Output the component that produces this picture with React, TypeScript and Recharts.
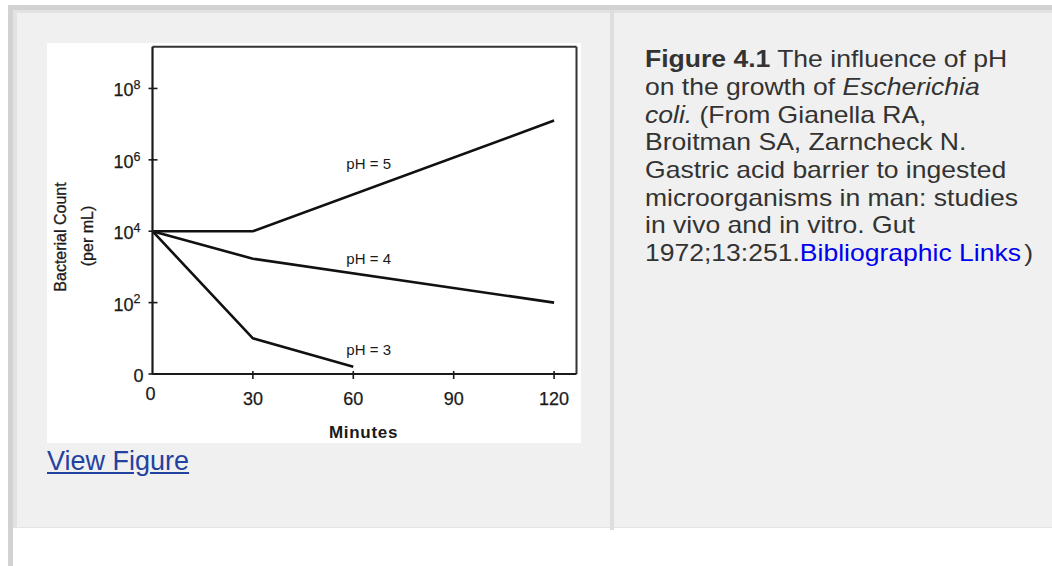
import React from "react";
import {
  LineChart,
  Line,
  XAxis,
  YAxis,
  ReferenceLine,
  ReferenceDot,
  Label,
} from "recharts";

// minutes after inoculation, log10 of bacterial count (0 => 10^0)
const minutesPh5 = [0, 30, 120];
const logCountPh5 = [4, 4, 7.1];
const minutesPh4 = [0, 30, 120];
const logCountPh4 = [4, 3.23, 2];
const minutesPh3 = [0, 30, 60];
const logCountPh3 = [4, 1, 0.2];

const seriesNames = ["pH = 5", "pH = 4", "pH = 3"];
const xTicks = [0, 30, 60, 90, 120];
const yTicks = [0, 2, 4, 6, 8]; // exponent of ten

const X_MAX = 126.7;
const Y_MAX = 9.17;
const FONT = '"Liberation Sans", Arial, Helvetica, sans-serif';
const INK = "#1a1a1a";

// where the pH labels sit, in data units
const labelSpots = [
  { t: 64.6, v: 5.88 },
  { t: 64.6, v: 3.22 },
  { t: 64.6, v: 0.67 },
];

const toRows = (xs: number[], ys: number[]) => xs.map((t, i) => ({ t, v: ys[i] }));

const ph5 = toRows(minutesPh5, logCountPh5);
const ph4 = toRows(minutesPh4, logCountPh4);
const ph3 = toRows(minutesPh3, logCountPh3);

const ExpTick = (props: any) => {
  const { x, y, payload } = props;
  const e = payload.value;
  return (
    <g>
      <line x1={x - 4} x2={x + 5} y1={y} y2={y} stroke={INK} strokeWidth={1.6} />
      {e === 0 ? (
        <text x={x - 9} y={y + 8} textAnchor="end" fontSize={18} fill={INK} stroke={INK} strokeWidth={0.25} fontFamily={FONT}>
          0
        </text>
      ) : (
        <text x={x - 12} y={y + 8} textAnchor="end" fontSize={18} fill={INK} stroke={INK} strokeWidth={0.25} fontFamily={FONT}>
          10
          <tspan fontSize={12.5} dy={-7.3}>
            {e}
          </tspan>
        </text>
      )}
    </g>
  );
};

const MinuteTick = (props: any) => {
  const { x, y, payload } = props;
  const zero = payload.value === 0;
  return (
    <g>
      {!zero && <line x1={x} x2={x} y1={y - 3} y2={y + 5} stroke={INK} strokeWidth={1.6} />}
      <text
        x={zero ? x - 2 : x}
        y={y + (zero ? 26 : 31)}
        textAnchor="middle"
        fontSize={18}
        fill={INK}
        stroke={INK}
        strokeWidth={0.25}
        fontFamily={FONT}
      >
        {payload.value}
      </text>
    </g>
  );
};

const YTitle = (props: any) => {
  const { viewBox } = props;
  const cy = viewBox.y + 190.3;
  const bx = viewBox.x - 26.5;
  return (
    <g fill={INK} fontFamily={FONT} fontSize={16} stroke={INK} strokeWidth={0.3}>
      <text transform={`translate(${bx},${cy}) rotate(-90)`} textAnchor="middle">
        Bacterial Count
      </text>
      <text transform={`translate(${bx + 27},${cy - 1}) rotate(-90)`} textAnchor="middle">
        (per mL)
      </text>
    </g>
  );
};

const XTitle = (props: any) => {
  const { viewBox } = props;
  return (
    <text
      x={viewBox.x + viewBox.width / 2 - 1}
      y={viewBox.y + 64}
      textAnchor="middle"
      fontSize={17}
      fontWeight="bold"
      letterSpacing={0.7}
      fill={INK}
      fontFamily={FONT}
    >
      Minutes
    </text>
  );
};

const PhChart = () => (
  <LineChart
    width={534}
    height={400}
    margin={{ top: 3.7, right: 4.5, bottom: 0, left: 45.5 }}
  >
    <XAxis
      dataKey="t"
      type="number"
      domain={[0, X_MAX]}
      ticks={xTicks}
      interval={0}
      height={69}
      tickSize={0}
      tickMargin={0}
      tickLine={false}
      tick={<MinuteTick />}
      axisLine={{ stroke: INK, strokeWidth: 2.2 }}
      allowDataOverflow
    >
      <Label content={<XTitle />} />
    </XAxis>
    <YAxis
      type="number"
      domain={[0, Y_MAX]}
      ticks={yTicks}
      interval={0}
      width={60}
      tickSize={0}
      tickMargin={0}
      tickLine={false}
      tick={<ExpTick />}
      axisLine={{ stroke: INK, strokeWidth: 2.2 }}
      allowDataOverflow
    >
      <Label content={<YTitle />} />
    </YAxis>
    <ReferenceLine y={Y_MAX} stroke="#333" strokeWidth={2} />
    <ReferenceLine x={X_MAX} stroke="#333" strokeWidth={2} />
    <Line data={ph5} dataKey="v" type="linear" dot={false} stroke="#111" strokeWidth={2.6} isAnimationActive={false} />
    <Line data={ph4} dataKey="v" type="linear" dot={false} stroke="#111" strokeWidth={2.6} isAnimationActive={false} />
    <Line data={ph3} dataKey="v" type="linear" dot={false} stroke="#111" strokeWidth={2.6} isAnimationActive={false} />
    {labelSpots.map((s, i) => (
      <ReferenceDot
        key={seriesNames[i]}
        x={s.t}
        y={s.v}
        r={0}
        fill="none"
        stroke="none"
        ifOverflow="visible"
        label={{
          value: seriesNames[i],
          position: "center",
          fontSize: 15,
          fill: INK,
          fontFamily: FONT,
        }}
      />
    ))}
  </LineChart>
);

export default function App() {
  return (
    <div
      style={{
        position: "absolute",
        left: 0,
        top: 0,
        width: 1052,
        height: 566,
        overflow: "hidden",
        background: "#fff",
        fontFamily: FONT,
      }}
    >
      {/* outer table borders */}
      <div style={{ position: "absolute", left: 8, top: 5, width: 1044, height: 5, background: "#d2d2d2" }} />
      <div style={{ position: "absolute", left: 8, top: 5, width: 5, height: 561, background: "#d2d2d2" }} />

      {/* left cell */}
      <div
        style={{
          position: "absolute",
          left: 13,
          top: 10,
          width: 597,
          height: 518,
          background: "#f0f0f0",
          borderLeft: "4px solid #e2e2e2",
          borderTop: "3px solid #e2e2e2",
          borderBottom: "1px solid #e4e4e4",
          boxSizing: "border-box",
        }}
      />
      {/* divider */}
      <div style={{ position: "absolute", left: 610, top: 10, width: 4, height: 520, background: "#dedede" }} />
      {/* right cell */}
      <div
        style={{
          position: "absolute",
          left: 614,
          top: 10,
          width: 438,
          height: 518,
          background: "#f0f0f0",
          borderTop: "3px solid #e2e2e2",
          borderBottom: "1px solid #e4e4e4",
          boxSizing: "border-box",
        }}
      />

      {/* figure */}
      <div style={{ position: "absolute", left: 47, top: 43, width: 534, height: 400, background: "#fff" }}>
        <PhChart />
      </div>

      <a
        href="#"
        style={{
          position: "absolute",
          left: 47,
          top: 446,
          fontSize: 27,
          lineHeight: "31px",
          color: "#23429f",
          textDecoration: "underline",
          whiteSpace: "nowrap",
        }}
      >
        View Figure
      </a>

      <div
        style={{
          position: "absolute",
          left: 645,
          top: 45.2,
          fontSize: 24,
          lineHeight: "27.7px",
          color: "#333",
          whiteSpace: "nowrap",
          transform: "scaleX(1.105)",
          transformOrigin: "0 0",
        }}
      >
        <b>Figure 4.1</b> The influence of pH
        <br />
        on the growth of <i>Escherichia</i>
        <br />
        <i>coli.</i> (From Gianella RA,
        <br />
        Broitman SA, Zarncheck N.
        <br />
        Gastric acid barrier to ingested
        <br />
        microorganisms in man: studies
        <br />
        in vivo and in vitro. Gut
        <br />
        1972;13:251.<span style={{ color: "#0000ee" }}>Bibliographic Links</span>
        <span style={{ marginLeft: 3 }}>)</span>
      </div>
    </div>
  );
}
